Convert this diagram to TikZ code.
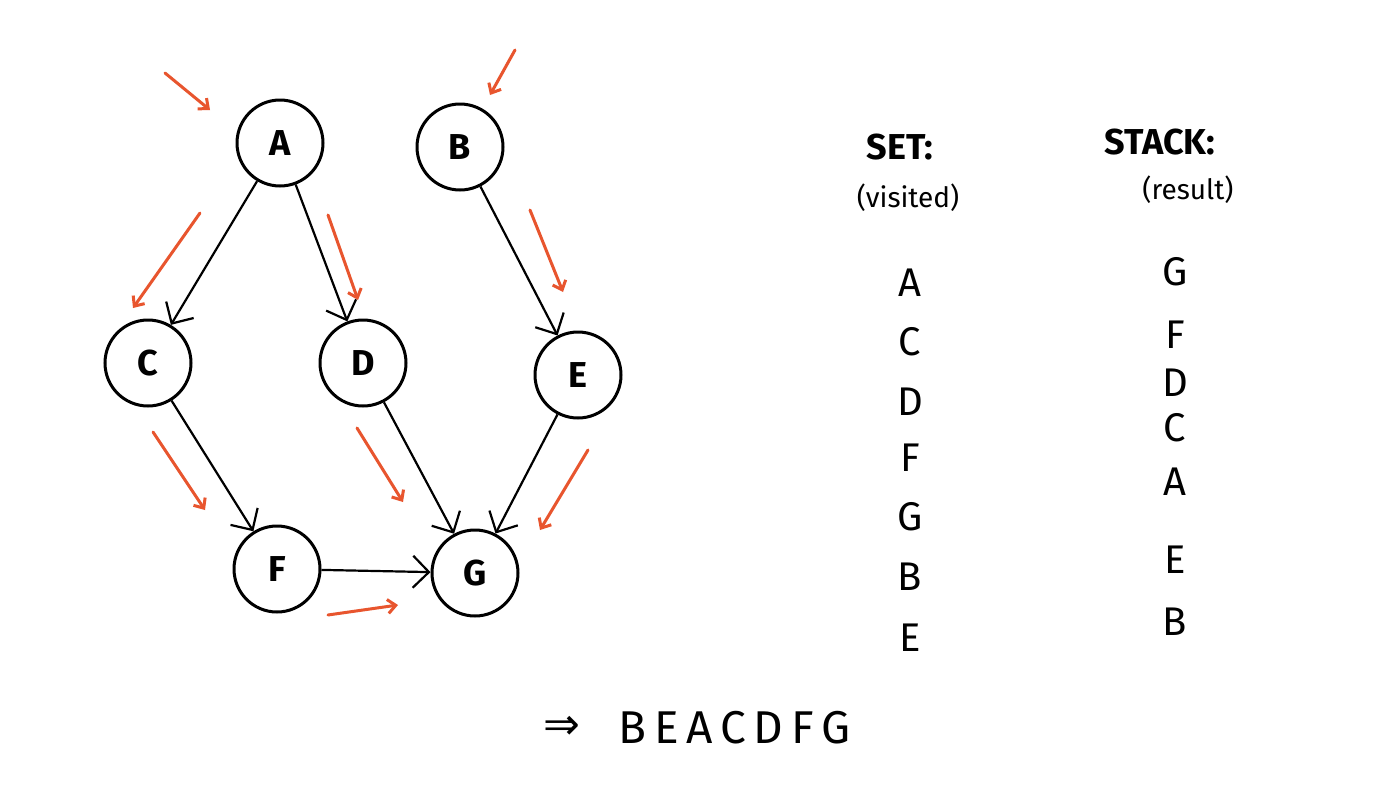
\documentclass[tikz,border=0pt]{standalone}
\usepackage{fontspec}
\setmainfont{Fira Sans}
\newfontfamily\symf{DejaVu Sans}
\usetikzlibrary{arrows.meta}
\definecolor{org}{HTML}{E8552E}
\begin{document}
\begin{tikzpicture}[x=1pt,y=-1pt,
  vert/.style={circle,draw,line width=3pt,minimum size=86pt,inner sep=0pt,font=\fontsize{36}{36}\selectfont\bfseries},
  edge/.style={line width=2.2pt,-{Straight Barb[length=16pt,width=32pt,line width=2.2pt]}},
  hint/.style={line width=3pt,org,line cap=round,-{Straight Barb[length=8pt,width=14pt,line width=3pt]}},
  lab/.style={font=\fontsize{40}{40}\selectfont},
  hd/.style={font=\fontsize{36}{36}\selectfont\bfseries},
  sub/.style={font=\fontsize{28}{28}\selectfont}]
\useasboundingbox[fill=white] (0,0) rectangle (1400,809);
\node[vert] (A) at (280,143) {A};
\node[vert] (B) at (460,147) {B};
\node[vert] (C) at (148,363) {C};
\node[vert] (D) at (363,363) {D};
\node[vert] (E) at (578,375) {E};
\node[vert] (F) at (277,569) {F};
\node[vert] (G) at (475,573) {G};
\draw[edge] (A) -- (C);
\draw[edge] (A) -- (D);
\draw[edge] (B) -- (E);
\draw[edge] (C) -- (F);
\draw[edge] (D) -- (G);
\draw[edge] (E) -- (G);
\draw[edge] (F) -- (G);
\coordinate (h1a) at (165,73); \coordinate (h1b) at (210,110);
\coordinate (h2a) at (515,50); \coordinate (h2b) at (490,95);
\coordinate (h3a) at (200,213); \coordinate (h3b) at (133,308);
\coordinate (h4a) at (328,215); \coordinate (h4b) at (358,300);
\coordinate (h5a) at (530,210); \coordinate (h5b) at (563,292);
\coordinate (h6a) at (153,432); \coordinate (h6b) at (205,510);
\coordinate (h7a) at (357,428); \coordinate (h7b) at (403,502);
\coordinate (h8a) at (588,450); \coordinate (h8b) at (540,530);
\coordinate (h9a) at (328,615); \coordinate (h9b) at (398,605);
\foreach \i in {1,...,9} \draw[hint] (h\i a) -- (h\i b);
\node[hd] (set) at (900,147) {SET:};
\node[sub] (vis) at (908,198) {(visited)};
\node[hd] (stk) at (1160,142) {STACK:};
\node[sub] (res) at (1188,190) {(result)};
\foreach \t/\y [count=\k] in {A/283,C/342,D/402,F/458,G/517,B/577,E/638}
  \node[lab] (s\k) at (910,\y) {\t};
\foreach \t/\y [count=\k] in {G/272,F/335,D/383,C/428,A/482,E/560,B/622}
  \node[lab] (r\k) at (1175,\y) {\t};
\node[font=\symf\fontsize{44}{44}\selectfont] (imp) at (562,728) {⇒};
\node[font=\fontsize{46}{46}\selectfont,anchor=west] (ans) at (615,728) {B\,E\,A\,C\,D\,F\,G};
\end{tikzpicture}
\end{document}
